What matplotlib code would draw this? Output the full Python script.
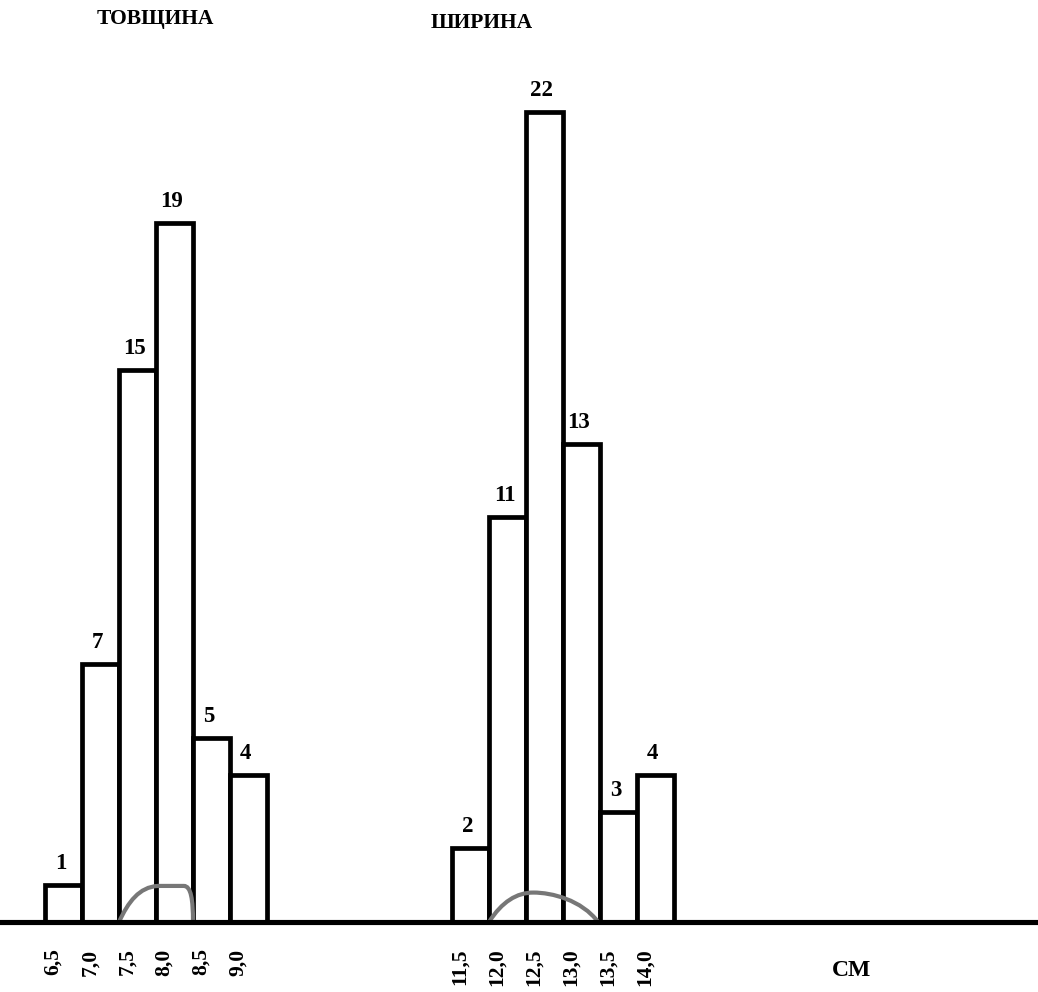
"""Two histograms (thickness / width) on a shared baseline, with a gray hump over each."""

import matplotlib

matplotlib.use("Agg")

import matplotlib.pyplot as plt  # noqa: E402
from matplotlib.patches import PathPatch  # noqa: E402
from matplotlib.path import Path  # noqa: E402

# --- data -------------------------------------------------------------------
THICK_COUNTS = [1, 7, 15, 19, 5, 4]
THICK_LABELS = ["6,5", "7,0", "7,5", "8,0", "8,5", "9,0"]
WIDTH_COUNTS = [2, 11, 22, 13, 3, 4]
WIDTH_LABELS = ["11,5", "12,0", "12,5", "13,0", "13,5", "14,0"]
TITLES = ["ТОВЩИНА", "ШИРИНА"]
UNIT = "СМ"

# hand-drawn humps: bezier vertices (x in bar slots, y in counts)
HUMP_THICK = [(2.0, 0.0), (2.25, 0.55), (2.55, 0.95), (3.05, 0.98),
              (3.75, 0.98), (3.95, 0.98), (4.0, 0.6), (4.0, 0.0)]
HUMP_WIDTH = [(12.0, 0.0), (12.35, 0.55), (12.75, 0.8), (13.2, 0.8),
              (13.7, 0.8), (14.5, 0.6), (14.95, 0.0)]

# --- layout -----------------------------------------------------------------
GROUP_START = [0, 11]  # bar slot where each group begins
LABEL_SHIFT = 0.22  # tick label offset from a bar's left edge
FONT = dict(family="Liberation Serif", weight="bold")
LW = 3.4

fig = plt.figure(figsize=(10.38, 9.92), dpi=100)
ax = fig.add_axes((0, 0, 1, 1))
ax.set_xlim(-45 / 37, (1038 - 45) / 37)
ax.set_ylim(-70 / 36.8, 922 / 36.8)
ax.axis("off")

groups = [(THICK_COUNTS, THICK_LABELS), (WIDTH_COUNTS, WIDTH_LABELS)]
for start, (counts, labels) in zip(GROUP_START, groups):
    xs = [start + i for i in range(len(counts))]
    ax.bar(xs, counts, width=1.0, align="edge", facecolor="white",
           edgecolor="black", linewidth=LW, zorder=3)
    for x, c in zip(xs, counts):
        ax.text(x + 0.43, c + 0.3, str(c), ha="center", va="bottom",
                fontsize=16.5, zorder=5, **FONT)
    for x, lab in zip(xs, labels):
        ax.text(x + LABEL_SHIFT, -0.72, lab, rotation=90, ha="center", va="top",
                fontsize=15.5, **FONT)

# humps
codes_t = [Path.MOVETO, Path.CURVE4, Path.CURVE4, Path.CURVE4,
           Path.LINETO, Path.CURVE4, Path.CURVE4, Path.CURVE4]
codes_w = [Path.MOVETO, Path.CURVE4, Path.CURVE4, Path.CURVE4,
           Path.CURVE4, Path.CURVE4, Path.CURVE4]
for pts, codes in [(HUMP_THICK, codes_t), (HUMP_WIDTH, codes_w)]:
    ax.add_patch(PathPatch(Path(pts, codes), facecolor="none", edgecolor="#777777",
                           linewidth=3.0, zorder=4, capstyle="round"))

ax.axhline(0, color="black", linewidth=LW + 0.3, zorder=6)

ax.text(2.97, 24.54, TITLES[0], ha="center", va="center", fontsize=15.5, **FONT)
ax.text(11.81, 24.43, TITLES[1], ha="center", va="center", fontsize=15.5, **FONT)
ax.text(21.8, -1.33, UNIT, ha="center", va="center", fontsize=17, **FONT)

fig.savefig("out.png", dpi=100)
